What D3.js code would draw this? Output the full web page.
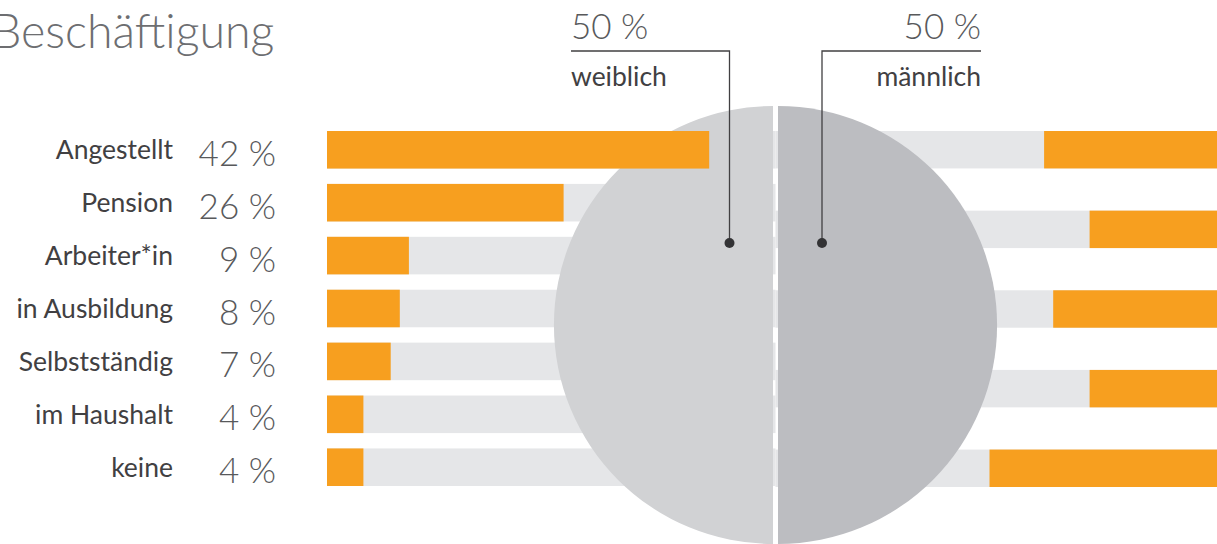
<!DOCTYPE html>
<html>
<head>
<meta charset="utf-8">
<script src="https://cdn.jsdelivr.net/npm/d3@7"></script>
<style>
  body { margin: 0; background: #fff; overflow: hidden; }
  svg { display: block; font-family: Lato, "Open Sans", sans-serif; }
</style>
</head>
<body>
<script>
// employment shares (left panel)
let categories = ["Angestellt", "Pension", "Arbeiter*in", "in Ausbildung", "Selbstständig", "im Haushalt", "keine"];
let shares = [42, 26, 9, 8, 7, 4, 4];
// bars of the neighbouring panel, cut at the right edge
let rightShares = [19, 14, 18, 14, 25];
// gender split
let genders = ["weiblich", "männlich"];
let genderShares = [50, 50];

function main(){
    let width = 1217;
    let height = 544;

    let svg = d3.select("body").append("svg")
        .attr("width", width)
        .attr("height", height);

    let orange = "#f79f1f";
    let track = "#e5e6e8";

    let x = d3.scaleLinear().domain([0, 100]).range([327, 1237]);
    let y = d3.scaleBand().domain(categories).range([131, 486]).paddingInner(0.29);
    let yR = d3.scaleBand().domain(d3.range(rightShares.length)).range([131, 487]).paddingInner(0.53);
    let xR = d3.scaleLinear().domain([0, 100]).range([1217, 307]);

    let cx = 775.5, cy = 325, r = 219;

    // title
    svg.append("text")
        .attr("x", -8)
        .attr("y", 48)
        .attr("font-size", 46.5)
        .attr("font-weight", 300)
        .attr("fill", "#6d6e71")
        .text("Beschäftigung");

    // grey tracks
    svg.selectAll(".trackL")
        .data(categories)
        .enter()
        .append("rect")
        .attr("x", x(0))
        .attr("y", d => y(d))
        .attr("width", cx - x(0))
        .attr("height", y.bandwidth())
        .attr("fill", track);

    svg.selectAll(".trackR")
        .data(rightShares)
        .enter()
        .append("rect")
        .attr("x", cx)
        .attr("y", (d, i) => yR(i))
        .attr("width", width - cx)
        .attr("height", yR.bandwidth())
        .attr("fill", track);

    // pie of gender split
    let pie = d3.pie().sort(null)(genderShares);
    let arc = d3.arc().innerRadius(0).outerRadius(r);
    let pieColor = ["#d1d2d4", "#bcbdc1"];
    // pie starts at 12 o'clock clockwise: first slice is the right half
    svg.selectAll(".slice")
        .data(pie)
        .enter()
        .append("path")
        .attr("transform", (d, i) => "translate(" + (cx + (i === 0 ? 2.5 : -2.5)) + "," + cy + ")")
        .attr("d", arc)
        .attr("fill", (d, i) => i === 0 ? pieColor[1] : pieColor[0]);

    // orange bars
    svg.selectAll(".barL")
        .data(shares)
        .enter()
        .append("rect")
        .attr("x", x(0))
        .attr("y", (d, i) => y(categories[i]))
        .attr("width", d => x(d) - x(0))
        .attr("height", y.bandwidth())
        .attr("fill", orange);

    svg.selectAll(".barR")
        .data(rightShares)
        .enter()
        .append("rect")
        .attr("x", d => xR(d))
        .attr("y", (d, i) => yR(i))
        .attr("width", d => width - xR(d) + 5)
        .attr("height", yR.bandwidth())
        .attr("fill", orange);

    // category labels and values
    svg.selectAll(".cat")
        .data(categories)
        .enter()
        .append("text")
        .attr("x", 173)
        .attr("y", d => y(d) + y.bandwidth() / 2 + 9.5)
        .attr("text-anchor", "end")
        .attr("font-size", 26.5)
        .attr("fill", "#414042")
        .text(d => d);

    svg.selectAll(".val")
        .data(shares)
        .enter()
        .append("text")
        .attr("x", 276)
        .attr("y", (d, i) => y(categories[i]) + y.bandwidth() / 2 + 16)
        .attr("text-anchor", "end")
        .attr("font-size", 35)
        .attr("font-weight", 300)
        .attr("fill", "#58595b")
        .text(d => d + " %");

    // leader lines for the pie
    let leaders = [
        {label: genders[0], value: genderShares[0], lx: 729.5, tx: 571, anchor: "start"},
        {label: genders[1], value: genderShares[1], lx: 822, tx: 981, anchor: "end"}
    ];
    let lineY = 51, dotY = 243;

    leaders.forEach(function(d){
        svg.append("path")
            .attr("d", "M" + d.tx + "," + lineY + "H" + d.lx + "V" + dotY)
            .attr("fill", "none")
            .attr("stroke", "#414042")
            .attr("stroke-width", 1.3);
        svg.append("circle")
            .attr("cx", d.lx)
            .attr("cy", dotY)
            .attr("r", 5)
            .attr("fill", "#333335");
        svg.append("text")
            .attr("x", d.tx)
            .attr("y", 39)
            .attr("text-anchor", d.anchor)
            .attr("font-size", 35)
            .attr("font-weight", 300)
            .attr("fill", "#58595b")
            .text(d.value + " %");
        svg.append("text")
            .attr("x", d.tx)
            .attr("y", 86)
            .attr("text-anchor", d.anchor)
            .attr("font-size", 26.5)
            .attr("fill", "#414042")
            .text(d.label);
    });
}

main();
</script>
</body>
</html>
